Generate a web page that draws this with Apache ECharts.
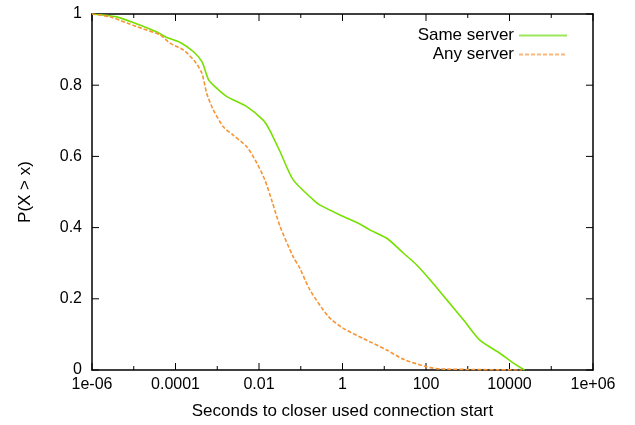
<!DOCTYPE html>
<html>
<head>
<meta charset="utf-8">
<script src="https://cdn.jsdelivr.net/npm/echarts@6/dist/echarts.min.js"></script>
<style>
  html, body { margin: 0; padding: 0; background: #fff; }
  #chart { width: 635px; height: 425px; }
</style>
</head>
<body>
<div id="chart"></div>
<script>
// values (x in seconds, y = P(X > x))
const sameX = [1e-6, 3.9e-6, 1.2e-5, 3.5e-5, 6.2e-5, 1.3e-4, 2.7e-4, 4.3e-4, 6.2e-4, 9.8e-4,
  1.7e-3, 5.1e-3, 0.0126, 0.018, 0.032, 0.066, 0.2, 0.29, 1.05, 2.6, 4.6, 11.5, 29, 60, 126,
  316, 850, 1950, 5900, 11200, 23000];
const sameY = [1.0, 0.992, 0.972, 0.950, 0.934, 0.920, 0.894, 0.866, 0.815, 0.791,
  0.768, 0.740, 0.702, 0.674, 0.613, 0.534, 0.478, 0.463, 0.431, 0.410, 0.393, 0.370, 0.328, 0.295, 0.253,
  0.197, 0.136, 0.084, 0.047, 0.023, 0.0];

const anyX = [1e-6, 2.7e-6, 1.2e-5, 4.3e-5, 7.4e-5, 1.55e-4, 2.95e-4, 4.3e-4, 5.6e-4, 8.1e-4,
  1.4e-3, 2.4e-3, 5.1e-3, 8.9e-3, 0.0138, 0.02, 0.032, 0.066, 0.095, 0.166, 0.46, 1.05, 3.2,
  11.5, 29, 105, 220, 20000];
const anyY = [1.0, 0.992, 0.964, 0.941, 0.918, 0.899, 0.866, 0.833, 0.777, 0.730,
  0.683, 0.660, 0.627, 0.581, 0.534, 0.478, 0.403, 0.318, 0.286, 0.225, 0.150, 0.117, 0.088,
  0.056, 0.030, 0.009, 0.003, 0.0];

// tick positions (every decade on x, labels on every second one)
const xTicks = [1e-6, 1e-5, 1e-4, 1e-3, 1e-2, 1e-1, 1, 10, 100, 1e3, 1e4, 1e5, 1e6];
const yTicks = [0, 0.2, 0.4, 0.6, 0.8, 1];
const xTickLabels = { '-6': '1e-06', '-4': '0.0001', '-2': '0.01', '0': '1', '2': '100', '4': '10000', '6': '1e+06' };
const yTickLabels = ['0', '0.2', '0.4', '0.6', '0.8', '1'];

const font = 'Liberation Sans, Arial, sans-serif';
const ink = '#000';

function pairs(xs, ys) { return xs.map((x, i) => [x, ys[i]]); }

function xAxis(pos, withLabels) {
  return {
    type: 'log', logBase: 10, interval: 1, position: pos, min: 1e-6, max: 1e6,
    splitLine: { show: false },
    axisLine: { show: true, onZero: false, lineStyle: { color: ink, width: 1.5 } },
    axisTick: { show: false },
    axisLabel: {
      show: withLabels, margin: 7, color: ink, fontFamily: font, fontSize: 16,
      formatter: v => xTickLabels[String(Math.round(Math.log10(v)))] || ''
    },
    name: withLabels ? 'Seconds to closer used connection start' : '',
    nameLocation: 'middle', nameGap: 33,
    nameTextStyle: { color: ink, fontFamily: font, fontSize: 17 }
  };
}

function yAxis(pos, withLabels) {
  return {
    type: 'value', position: pos, min: 0, max: 1, interval: 0.2,
    splitLine: { show: false },
    axisLine: { show: true, onZero: false, lineStyle: { color: ink, width: 1.5 } },
    axisTick: { show: false },
    axisLabel: {
      show: withLabels, margin: 10, color: ink, fontFamily: font, fontSize: 16,
      formatter: v => yTickLabels[Math.round(v * 5)]
    },
    name: withLabels ? 'P(X > x)' : '',
    nameLocation: 'middle', nameGap: 58,
    nameTextStyle: { color: ink, fontFamily: font, fontSize: 17 }
  };
}

function seg(x1, y1, x2, y2) {
  return { type: 'line', shape: { x1: x1, y1: y1, x2: x2, y2: y2 }, style: { stroke: ink, lineWidth: 1 } };
}

// inward ticks on all four sides, placed through the axes' own scales
function renderXTick(params, api) {
  const cs = params.coordSys;
  const p = api.coord([api.value(0), 0.5]);
  const major = Math.round(Math.log10(api.value(0))) % 2 === 0;
  const len = major ? 7 : 4;
  const top = cs.y, bottom = cs.y + cs.height;
  return { type: 'group', children: [seg(p[0], bottom, p[0], bottom - len), seg(p[0], top, p[0], top + len)] };
}
function renderYTick(params, api) {
  const cs = params.coordSys;
  const p = api.coord([1, api.value(1)]);
  const left = cs.x, right = cs.x + cs.width;
  return { type: 'group', children: [seg(left, p[1], left + 7, p[1]), seg(right, p[1], right - 7, p[1])] };
}

const chart = echarts.init(document.getElementById('chart'));
chart.setOption({
  animation: false,
  grid: { left: 92, right: 42, top: 14, bottom: 55 },
  xAxis: [xAxis('bottom', true), xAxis('top', false)],
  yAxis: [yAxis('left', true), yAxis('right', false)],
  legend: {
    orient: 'vertical', right: 62, top: 22, align: 'right',
    itemWidth: 48, itemHeight: 14, itemGap: 2,
    itemStyle: { opacity: 0 },
    textStyle: { color: ink, fontFamily: font, fontSize: 17 },
    data: [
      { name: 'Same server', lineStyle: { color: '#9be85a' } },
      { name: 'Any server', lineStyle: { color: '#fbb77a' } }
    ]
  },
  series: [
    {
      name: 'Same server', type: 'line', xAxisIndex: 0, yAxisIndex: 0,
      data: pairs(sameX, sameY), symbol: 'none', smooth: 0.25,
      lineStyle: { color: '#77e000', width: 1.6 }, itemStyle: { color: '#77e000' }
    },
    {
      name: 'Any server', type: 'line', xAxisIndex: 0, yAxisIndex: 0,
      data: pairs(anyX, anyY), symbol: 'none', smooth: 0.25,
      lineStyle: { color: '#f79433', width: 1.6, type: [4, 2] }, itemStyle: { color: '#f79433' }
    },
    {
      name: 'xTicks', type: 'custom', xAxisIndex: 0, yAxisIndex: 0, silent: true, clip: false, z: 1,
      data: xTicks.map(v => [v, 0.5]), renderItem: renderXTick
    },
    {
      name: 'yTicks', type: 'custom', xAxisIndex: 0, yAxisIndex: 0, silent: true, clip: false, z: 1,
      data: yTicks.map(v => [1, v]), renderItem: renderYTick
    }
  ]
});
</script>
</body>
</html>
